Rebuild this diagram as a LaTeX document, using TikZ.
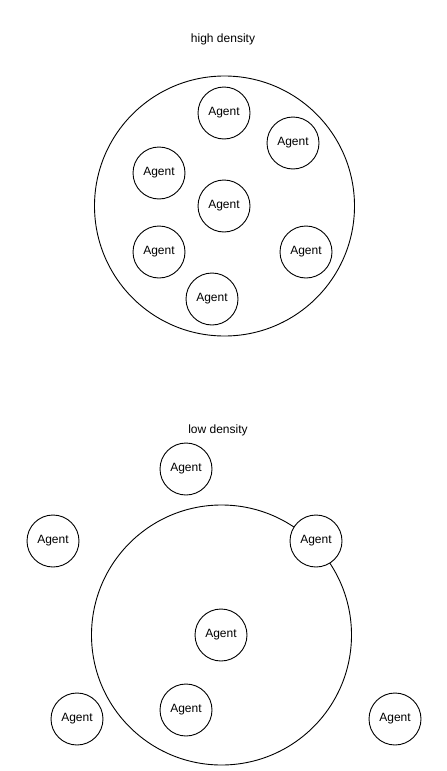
\documentclass[tikz,border=0pt]{standalone}
\usepackage{fontspec}
\setmainfont{Liberation Sans}
\begin{document}
\begin{tikzpicture}[x=1pt,y=-1pt,
  agent/.style={circle,draw=black,fill=white,line width=0.9pt,minimum size=52pt,inner sep=0pt,font=\fontsize{12}{14}\selectfont},
  area/.style={circle,draw=black,line width=0.9pt,inner sep=0pt},
  lbl/.style={font=\fontsize{12}{14}\selectfont,inner sep=0pt}]
\useasboundingbox (0,0) rectangle (447,771);
% high density
\node[lbl] (t1) at (223,39) {high density};
\node[area,minimum size=260pt] (c1) at (224.5,206) {};
\node[agent] (a1) at (224,113) {Agent};
\node[agent] (a2) at (293,143) {Agent};
\node[agent] (a3) at (159,173) {Agent};
\node[agent] (a4) at (224,206) {Agent};
\node[agent] (a5) at (159,252) {Agent};
\node[agent] (a6) at (306,252) {Agent};
\node[agent] (a7) at (212,299) {Agent};
% low density
\node[lbl] (t2) at (218,430) {low density};
\node[area,minimum size=260pt] (c2) at (221.5,635) {};
\node[agent] (b1) at (186,469) {Agent};
\node[agent] (b2) at (53,541) {Agent};
\node[agent] (b3) at (316,541) {Agent};
\node[agent] (b4) at (221,635) {Agent};
\node[agent] (b5) at (186,710) {Agent};
\node[agent] (b6) at (77,719) {Agent};
\node[agent] (b7) at (395,719) {Agent};
\end{tikzpicture}
\end{document}
